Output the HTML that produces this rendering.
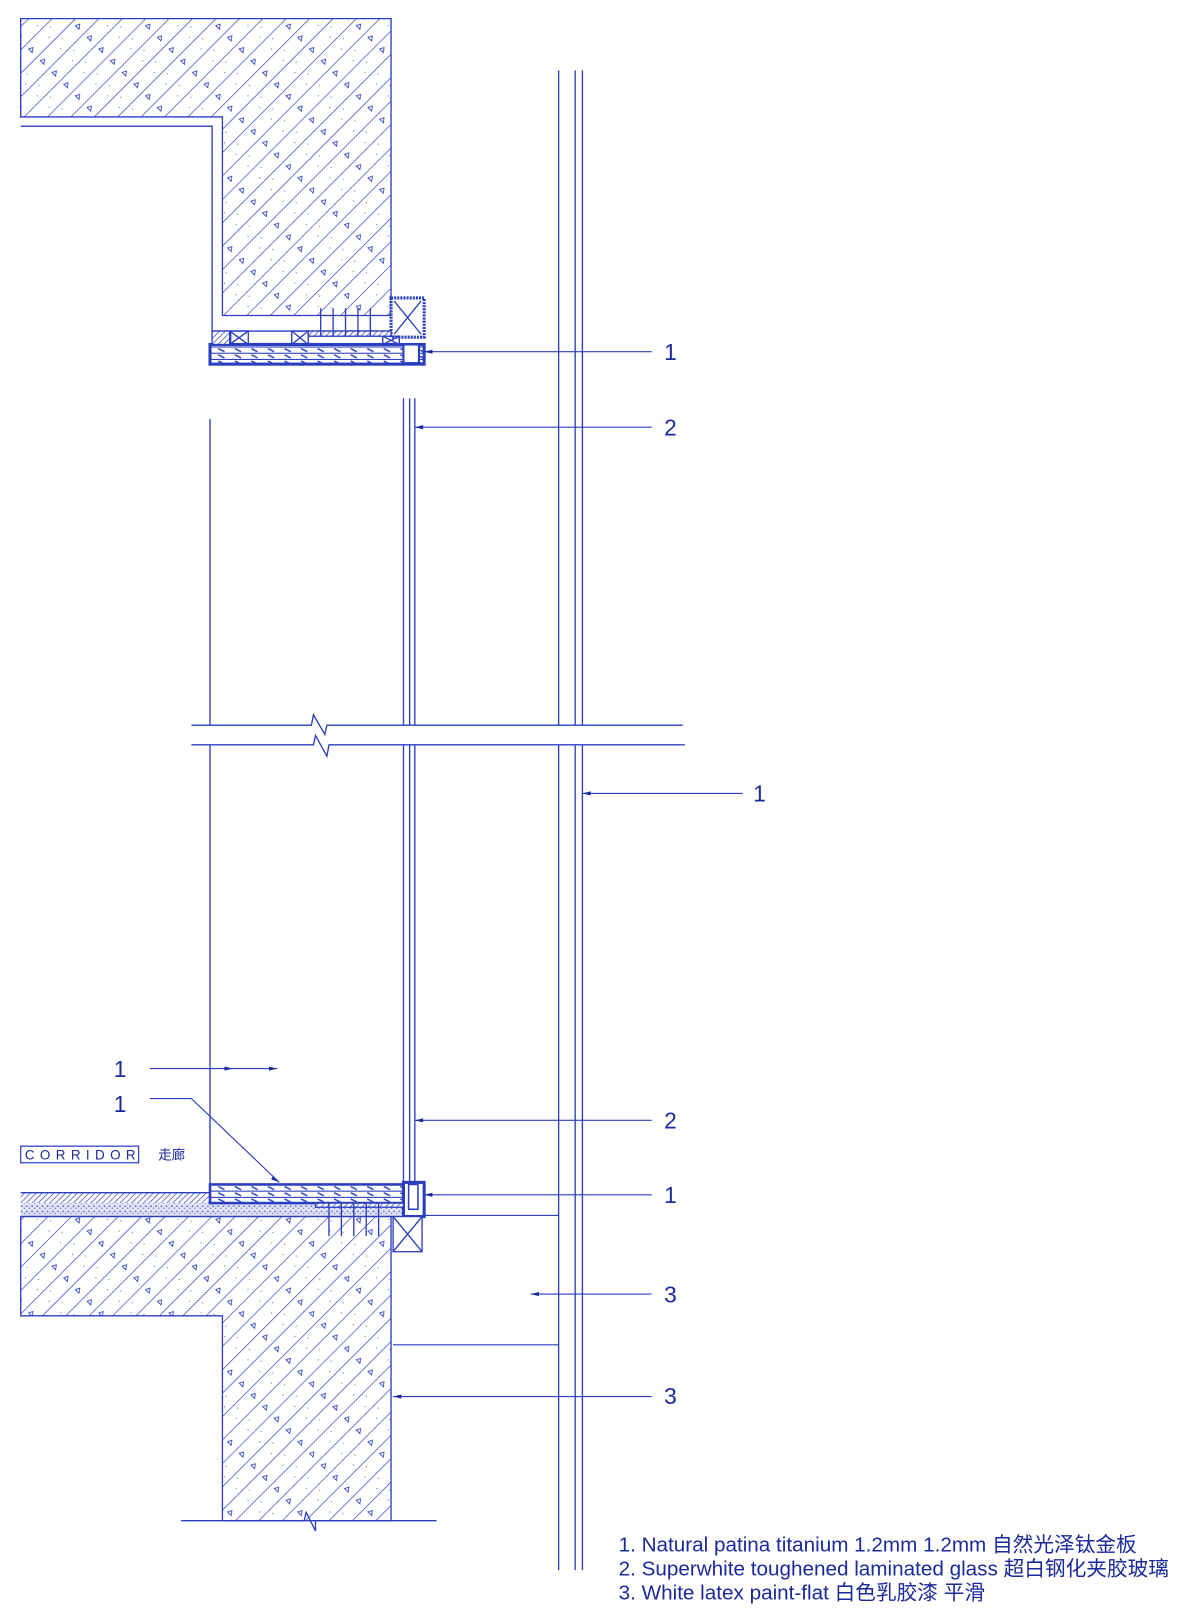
<!DOCTYPE html>
<html><head><meta charset="utf-8"><style>
html,body{margin:0;padding:0;background:#fff;}
svg{display:block}
text{font-family:"Liberation Sans","Noto Sans CJK SC",sans-serif;fill:#1a2a9c}
</style></head><body>
<svg width="1200" height="1621" viewBox="0 0 1160 1567" xmlns="http://www.w3.org/2000/svg">
<defs>
<pattern id="diag" width="16" height="48" patternUnits="userSpaceOnUse" patternTransform="rotate(45)">
<rect width="16" height="48" fill="#fff"/>
<line x1="0" y1="0" x2="0" y2="48" stroke="#2a3fc0" stroke-width="1.3"/>
<path d="M7 10 l3 4 h-5z" fill="none" stroke="#2a3fc0" stroke-width="0.8"/>
<circle cx="5" cy="32" r="0.6" fill="#6a7ad0"/><circle cx="11" cy="40" r="0.6" fill="#6a7ad0"/>
</pattern>
<pattern id="fine" width="4" height="4" patternUnits="userSpaceOnUse" patternTransform="rotate(45)">
<rect width="4" height="4" fill="#fff"/><line x1="0" y1="0" x2="0" y2="4" stroke="#2a3fc0" stroke-width="1.3"/>
</pattern>
<pattern id="dots" width="5" height="5" patternUnits="userSpaceOnUse">
<rect width="5" height="5" fill="#dfe3f5"/><circle cx="1" cy="1" r="0.8" fill="#4a5ac8"/><circle cx="3.5" cy="3" r="0.6" fill="#4a5ac8"/>
</pattern>
<pattern id="wood" width="16" height="6" patternUnits="userSpaceOnUse">
<rect width="16" height="6" fill="#fff"/><line x1="0" y1="5.5" x2="16" y2="5.5" stroke="#2a3fc0" stroke-width="1"/>
<line x1="3" y1="1" x2="9" y2="4" stroke="#2a3fc0" stroke-width="1.4"/>
</pattern>
</defs>
<g stroke="#2a3fc0" stroke-width="1.3" fill="none">
<path d="M20 18 H378 V305 H215 V113 H20 Z" fill="url(#diag)"/>
<path d="M20 122 H205 V320 H378"/>
<rect x="378" y="288" width="32" height="38" fill="#fff" stroke-width="3" stroke-dasharray="2 1"/>
<path d="M381 291 L407 323 M407 291 L381 323"/>
<rect x="203" y="333" width="207" height="19" fill="url(#wood)" stroke-width="3"/>
<rect x="298" y="320" width="80" height="5" fill="url(#fine)"/>
<rect x="205" y="320" width="18" height="13" fill="url(#fine)"/>
<rect x="222" y="320" width="18" height="13"/><path d="M222 320 L240 333 M240 320 L222 333"/>
<rect x="282" y="320" width="16" height="13"/><path d="M282 320 L298 333 M298 320 L282 333"/>
<rect x="370" y="325" width="16" height="8"/><path d="M370 325 L386 333 M386 325 L370 333"/>
<rect x="390" y="333" width="15" height="18" fill="#fff" stroke-width="2"/>
<path d="M310 298 V325 M322 298 V325 M334 298 V325 M346 298 V325 M358 298 V325"/>
<path d="M540 68 V701 M556 68 V701 M563 68 V701 M540 720 V1518 M556 720 V1518 M563 720 V1518"/>
<path d="M390 385 V701 M396 385 V701 M401 385 V701 M390 720 V1145 M396 720 V1145 M401 720 V1145"/>
<path d="M203 405 V701 M203 720 V1200"/>
<path d="M185 701 H301 L303 691 L314 710 L316 701 H660"/>
<path d="M185 720 H303 L305 711 L316 731 L318 720 H662"/>
<rect x="20" y="1153" width="183" height="10" fill="url(#fine)" stroke="none"/>
<rect x="20" y="1163" width="390" height="13" fill="url(#dots)" stroke="none"/>
<path d="M20 1153 H203 M20 1176 H410"/>
<path d="M20 1176 H378 V1470 H215 V1272 H20 Z" fill="url(#diag)"/>
<rect x="203" y="1145" width="190" height="18" fill="url(#wood)" stroke-width="2.5"/>
<rect x="390" y="1143" width="20" height="33" fill="#fff" stroke-width="3"/>
<rect x="395" y="1145" width="9" height="24" stroke-width="1.5"/>
<rect x="305" y="1163" width="85" height="4" fill="url(#fine)"/>
<path d="M318 1163 V1195 M330 1163 V1195 M342 1163 V1195 M354 1163 V1195 M366 1163 V1195"/>
<rect x="380" y="1176" width="28" height="34" fill="#fff"/><path d="M380 1176 L408 1210 M408 1176 L380 1210"/>
<path d="M175 1470 H294 L296 1462 L305 1480 V1470 H422"/>
<path d="M410 340 H630 M401 413 H630 M563 767 H718 M145 1033 H268 M145 1062 H185 L270 1143 M401 1083 H630 M410 1155 H630 M410 1175 H540 M513 1251 H630 M380 1300 H540 M380 1350 H630" stroke-width="1.1"/>
</g>
<g fill="#1a2a9c">
<path d="M410 340 l8 -2 v4z M401 413 l8 -2 v4z M563 767 l8 -2 v4z M225 1033 l-8 -2 v4z M268 1033 l-8 -2 v4z M401 1083 l8 -2 v4z M410 1155 l8 -2 v4z M513 1251 l8 -2 v4z M380 1350 l8 -2 v4z M270 1143 l-6 -6 l-2 3z"/>
</g>
<g font-size="22">
<text x="642" y="348">1</text><text x="642" y="421">2</text><text x="728" y="775">1</text>
<text x="110" y="1041">1</text><text x="110" y="1075">1</text><text x="642" y="1091">2</text>
<text x="642" y="1163">1</text><text x="642" y="1259">3</text><text x="642" y="1357">3</text>
</g>
<rect x="20" y="1108" width="114" height="16" fill="none" stroke="#2a3fc0" stroke-width="1.2"/>
<text x="24" y="1121" font-size="13" letter-spacing="5.2">CORRIDOR</text>
<text x="153" y="1121" font-size="13">走廊</text>
<g font-size="20" xml:space="preserve">
<text x="598" y="1500">1. Natural patina titanium 1.2mm  1.2mm 自然光泽钛金板</text>
<text x="598" y="1523">2. Superwhite toughened laminated glass  超白钢化夹胶玻璃</text>
<text x="598" y="1546">3. White latex paint-flat 白色乳胶漆 平滑</text>
</g>
</svg>
</body></html>
